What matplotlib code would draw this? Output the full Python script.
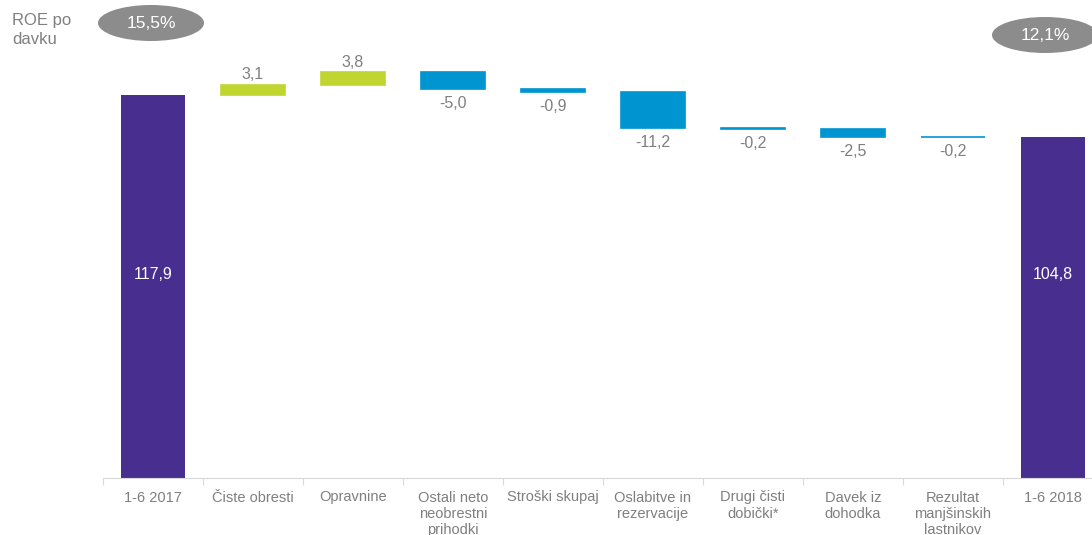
import numpy as np
import matplotlib.pyplot as plt
from matplotlib.patches import Ellipse

plt.rcParams['font.family'] = ['Liberation Sans', 'DejaVu Sans']

categories = ['1-6 2017', 'Čiste obresti', 'Opravnine', 'Ostali neto\nneobrestni\nprihodki',
              'Stroški skupaj', 'Oslabitve in\nrezervacije', 'Drugi čisti\ndobički*',
              'Davek iz\ndohodka', 'Rezultat\nmanjšinskih\nlastnikov', '1-6 2018']
start_total = 117.9
changes = [3.1, 3.8, -5.0, -0.9, -11.2, -0.2, -2.5, -0.2]
end_total = 104.8
labels = ['117,9', '3,1', '3,8', '-5,0', '-0,9', '-11,2', '-0,2', '-2,5', '-0,2', '104,8']
roe_labels = ['15,5%', '12,1%']

purple = '#482e8f'
green = '#c0d52f'
blue = '#0094d0'
gray = '#8c8c8c'
txt = '#7f7f7f'

fig = plt.figure(figsize=(10.92, 5.35), dpi=100)
ax = fig.add_axes([103 / 1092, 57 / 535, 1000 / 1092, 130 * 3.25 / 535])

x = np.arange(len(categories))
w = 0.64

# totals
ax.bar([0, 9], [start_total, end_total], width=w, color=purple)

# changes
level = start_total
for i, c in enumerate(changes, start=1):
    col = green if c > 0 else blue
    bottom = level if c > 0 else level + c
    ax.bar(i, abs(c), bottom=bottom, width=w, color=col, edgecolor=col, linewidth=1.2)
    if c > 0:
        ax.annotate(labels[i], (i, level + c), xytext=(0, 2), textcoords='offset points',
                    ha='center', va='bottom', fontsize=11.5, color=txt)
    else:
        ax.annotate(labels[i], (i, level + c), xytext=(0, -5), textcoords='offset points',
                    ha='center', va='top', fontsize=11.5, color=txt)
    level += c

for i in [0, 9]:
    ax.text(i, 62.5, labels[i], ha='center', va='center', fontsize=11.5, color='white')

ax.set_xlim(-0.5, 9.5)
ax.set_ylim(0, 130)
ax.set_xticks(x)
ax.set_xticklabels(categories, fontsize=10.5, color=txt, linespacing=1.2, va='top')
ax.tick_params(axis='x', length=0, pad=9)
ax.set_xticks(np.arange(-0.5, 10, 1), minor=True)
ax.tick_params(axis='x', which='minor', length=5, color='#d9d9d9', width=0.8)
ax.set_yticks([])
for s in ['top', 'right', 'left']:
    ax.spines[s].set_visible(False)
ax.spines['bottom'].set_color('#d9d9d9')
ax.spines['bottom'].set_linewidth(0.8)

# ROE ellipses
fig.text(12 / 1092, 1 - 30 / 535, 'ROE po\ndavku', ha='left', va='center', fontsize=12,
         color=txt, linespacing=1.3)
for (cx, cy), t in zip([(151, 23), (1045, 35)], roe_labels):
    e = Ellipse((cx / 1092, 1 - cy / 535), 106 / 1092, 36 / 535, transform=fig.transFigure,
                facecolor=gray, edgecolor='none')
    fig.patches.append(e)
    fig.text(cx / 1092, 1 - cy / 535, t, ha='center', va='center', fontsize=12.5, color='white')

fig.savefig('out.png', dpi=100)
